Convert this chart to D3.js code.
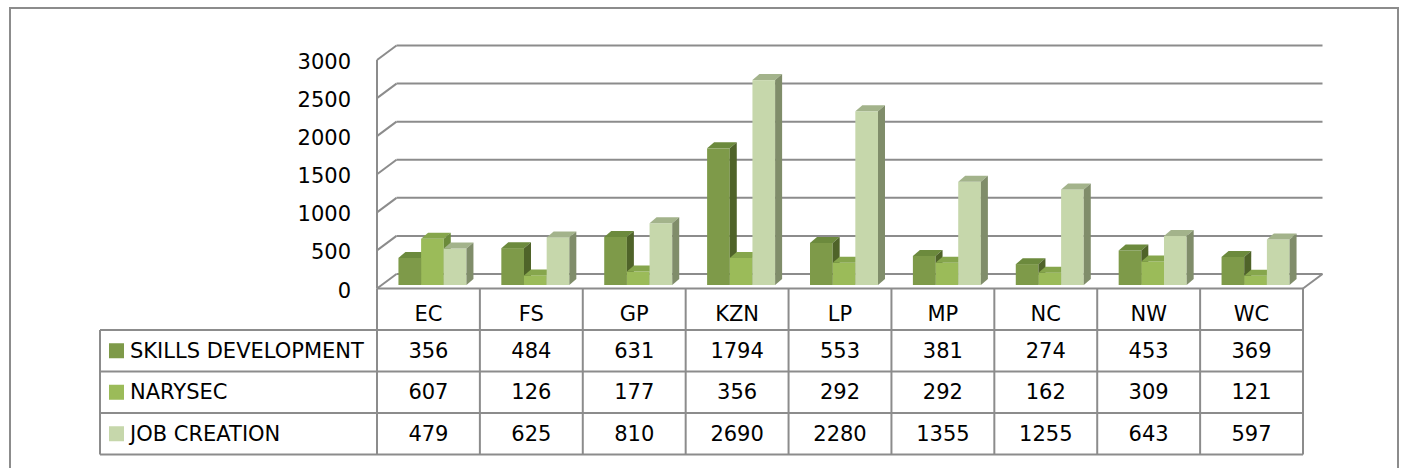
<!DOCTYPE html>
<html>
<head>
<meta charset="utf-8">
<script src="https://cdn.jsdelivr.net/npm/d3@7"></script>
<style>
html,body{margin:0;padding:0;background:#fff;}
svg{display:block;}
text{font-family:"DejaVu Sans",sans-serif;fill:#000;}
</style>
</head>
<body>
<svg id="chart" width="1402" height="468"></svg>
<script>
const categories = ["EC","FS","GP","KZN","LP","MP","NC","NW","WC"];
const seriesNames = ["SKILLS DEVELOPMENT","NARYSEC","JOB CREATION"];
const skillsDevelopment = [356,484,631,1794,553,381,274,453,369];
const narysec = [607,126,177,356,292,292,162,309,121];
const jobCreation = [479,625,810,2690,2280,1355,1255,643,597];
const yTicks = [0,500,1000,1500,2000,2500,3000];

const seriesValues = [skillsDevelopment, narysec, jobCreation];
const colors = [
  {front:"#7e9a49", top:"#6c8a3d", side:"#4f6329"},
  {front:"#9bbb59", top:"#86a64c", side:"#6b8a3a"},
  {front:"#c6d7ab", top:"#a3b38b", side:"#808d6a"}
];
const gridColor = "#8c8c8c";
const fontSize = "21px";

const svg = d3.select("#chart");

// outer frame
svg.append("rect").attr("x",10).attr("y",8).attr("width",1388).attr("height",480)
  .attr("fill","none").attr("stroke","#8c8c8c").attr("stroke-width",2);

// geometry
const x0 = 377, x1 = 1303;
const y = d3.scaleLinear().domain([0,3000]).range([288.5,60]);
const DX = 19.5, DY = -14.5;       // wall depth
const BOX = 4, BOY = -3.5;         // bar front plane offset
const BDX = 7, BDY = -6;           // bar depth
const groupW = 68;

const x = d3.scaleBand().domain(categories).range([x0,x1]).padding(0);
const bw = x.bandwidth();
const xs = d3.scaleBand().domain(seriesNames).range([(bw-groupW)/2,(bw+groupW)/2]).padding(0);

const g = svg.append("g");

// back wall gridlines + side wall diagonals
yTicks.forEach(t=>{
  g.append("line").attr("x1",x0+DX).attr("x2",x1+DX)
    .attr("y1",y(t)+DY).attr("y2",y(t)+DY)
    .attr("stroke",gridColor).attr("stroke-width",2);
  g.append("line").attr("x1",x0).attr("x2",x0+DX)
    .attr("y1",y(t)).attr("y2",y(t)+DY)
    .attr("stroke",gridColor).attr("stroke-width",2);
});
// side wall front vertical (axis)
g.append("line").attr("x1",x0).attr("x2",x0).attr("y1",y(3000)).attr("y2",y(0))
  .attr("stroke",gridColor).attr("stroke-width",2);
// floor right edge
g.append("line").attr("x1",x1).attr("x2",x1+DX).attr("y1",y(0)).attr("y2",y(0)+DY)
  .attr("stroke",gridColor).attr("stroke-width",2);

// y tick labels
g.selectAll("text.ytick").data(yTicks).enter().append("text")
  .attr("class","ytick").attr("x",351).attr("y",d=>y(d)+2)
  .attr("text-anchor","end").attr("dominant-baseline","central")
  .attr("font-size",fontSize).text(d=>d);

// bars
const bars = g.append("g");
categories.forEach((c,ci)=>{
  seriesNames.forEach((s,si)=>{
    const v = seriesValues[si][ci];
    const left = x(c) + xs(s) + BOX;
    const w = xs.bandwidth();
    const bot = y(0) + BOY;
    const top = y(v) + BOY;
    const col = colors[si];
    bars.append("rect").attr("x",left).attr("y",top).attr("width",w).attr("height",bot-top)
      .attr("fill",col.front);
    bars.append("path").attr("d",`M${left},${top}L${left+BDX},${top+BDY}L${left+w+BDX},${top+BDY}L${left+w},${top}Z`)
      .attr("fill",col.top);
    bars.append("path").attr("d",`M${left+w},${top}L${left+w+BDX},${top+BDY}L${left+w+BDX},${bot+BDY}L${left+w},${bot}Z`)
      .attr("fill",col.side);
  });
});

// data table
const headerTop = y(0), rowTop = 330, rowH = 41.5;
const tableBottom = rowTop + rowH*3;
const tL = 100;
const tg = svg.append("g");
tg.append("line").attr("x1",x0).attr("x2",x1).attr("y1",headerTop).attr("y2",headerTop)
  .attr("stroke",gridColor).attr("stroke-width",2);
[0,1,2,3].forEach(i=>{
  tg.append("line").attr("x1",tL).attr("x2",x1).attr("y1",rowTop+i*rowH).attr("y2",rowTop+i*rowH)
    .attr("stroke",gridColor).attr("stroke-width",2);
});
tg.append("line").attr("x1",tL).attr("x2",tL).attr("y1",rowTop).attr("y2",tableBottom)
  .attr("stroke",gridColor).attr("stroke-width",2);
categories.forEach(c=>{
  tg.append("line").attr("x1",x(c)).attr("x2",x(c)).attr("y1",headerTop).attr("y2",tableBottom)
    .attr("stroke",gridColor).attr("stroke-width",2);
});
tg.append("line").attr("x1",x1).attr("x2",x1).attr("y1",headerTop).attr("y2",tableBottom)
  .attr("stroke",gridColor).attr("stroke-width",2);

// header labels
tg.selectAll("text.cat").data(categories).enter().append("text")
  .attr("class","cat").attr("x",d=>x(d)+bw/2).attr("y",314)
  .attr("text-anchor","middle").attr("dominant-baseline","central")
  .attr("font-size",fontSize).text(d=>d);

// rows
seriesNames.forEach((s,si)=>{
  const cy = rowTop + si*rowH + rowH/2;
  tg.append("rect").attr("x",109).attr("y",cy-7.5).attr("width",15).attr("height",15)
    .attr("fill",colors[si].front);
  tg.append("text").attr("x",130).attr("y",cy).attr("dominant-baseline","central")
    .attr("font-size",fontSize).text(s);
  categories.forEach((c,ci)=>{
    tg.append("text").attr("x",x(c)+bw/2).attr("y",cy)
      .attr("text-anchor","middle").attr("dominant-baseline","central")
      .attr("font-size",fontSize).text(seriesValues[si][ci]);
  });
});
</script>
</body>
</html>
